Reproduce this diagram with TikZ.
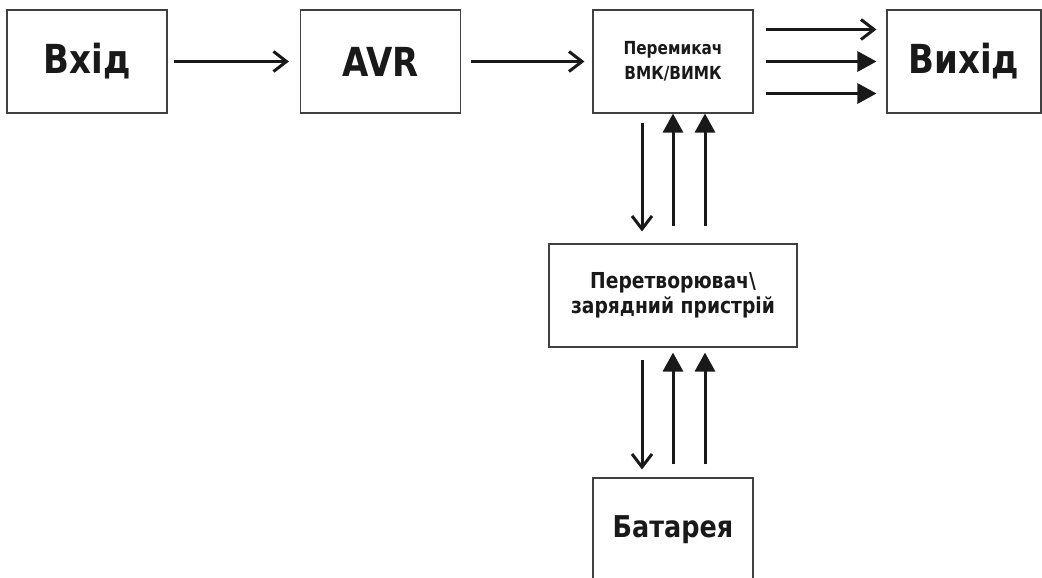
\documentclass[tikz,border=0pt]{standalone}
\usepackage{fontspec}
\setmainfont{DejaVu Sans}[FakeStretch=0.85]
\usepackage{tikz}
\usetikzlibrary{arrows.meta,positioning}

\begin{document}
\begin{tikzpicture}[x=1pt,y=-1pt]
\tikzstyle{blk}=[draw=black!75, line width=1.1pt, minimum width=160pt, minimum height=103pt, inner sep=0pt, align=center, text=black!90]
\tikzstyle{big}=[font=\fontsize{40}{44}\selectfont\bfseries]
\tikzstyle{pin}=[line width=3pt, draw=black!90]
\tikzstyle{opn}=[pin, -{Straight Barb[length=13pt,width=20pt]}]
\tikzstyle{sld}=[pin, -{Triangle[length=19pt,width=20pt]}]
\useasboundingbox (0,0) rectangle (1042,578);
\node[blk,big] (vhid) at (87,61.5){Вхід};
\node[blk,big] (avr) at (380.5,61.5){AVR};
\node[blk,font=\fontsize{18}{25}\selectfont\bfseries] (pm) at (673,61.5){Перемикач\\ВМК/ВИМК};
\node[blk,big,minimum width=154pt] (vyh) at (964,61.5){Вихід};
\node[blk,minimum width=248pt,font=\fontsize{22}{25}\selectfont\bfseries] (pt) at (673,295.5){Перетворювач\textbackslash\\зарядний пристрій};
\node[blk,font=\fontsize{30}{34}\selectfont\bfseries] (bat) at (673,529.5){Батарея};
% top row
\draw[opn] ([xshift=6pt]vhid.east) -- ([xshift=-11pt]avr.west);
\draw[opn] ([xshift=10pt]avr.east) -- ([xshift=-8pt]pm.west);
\draw[opn] ([xshift=12pt,yshift=32pt]pm.east) -- ([xshift=-10pt,yshift=32pt]vyh.west);
\foreach \s in {0,-32}{\draw[sld] ([xshift=12pt,yshift=\s pt]pm.east) -- ([xshift=-10pt,yshift=\s pt]vyh.west);}
% down the middle
\draw[opn] ([xshift=-31pt,yshift=-9pt]pm.south) -- ([xshift=-31pt,yshift=12pt]pt.north);
\foreach \s in {0,32}{\draw[sld] ([xshift=\s pt,yshift=17pt]pt.north) -- ([xshift=\s pt]pm.south);}
\draw[opn] ([xshift=-31pt,yshift=-12pt]pt.south) -- ([xshift=-31pt,yshift=8pt]bat.north);
\foreach \s in {0,32}{\draw[sld] ([xshift=\s pt,yshift=13pt]bat.north) -- ([xshift=\s pt,yshift=-5pt]pt.south);}
\end{tikzpicture}
\end{document}
